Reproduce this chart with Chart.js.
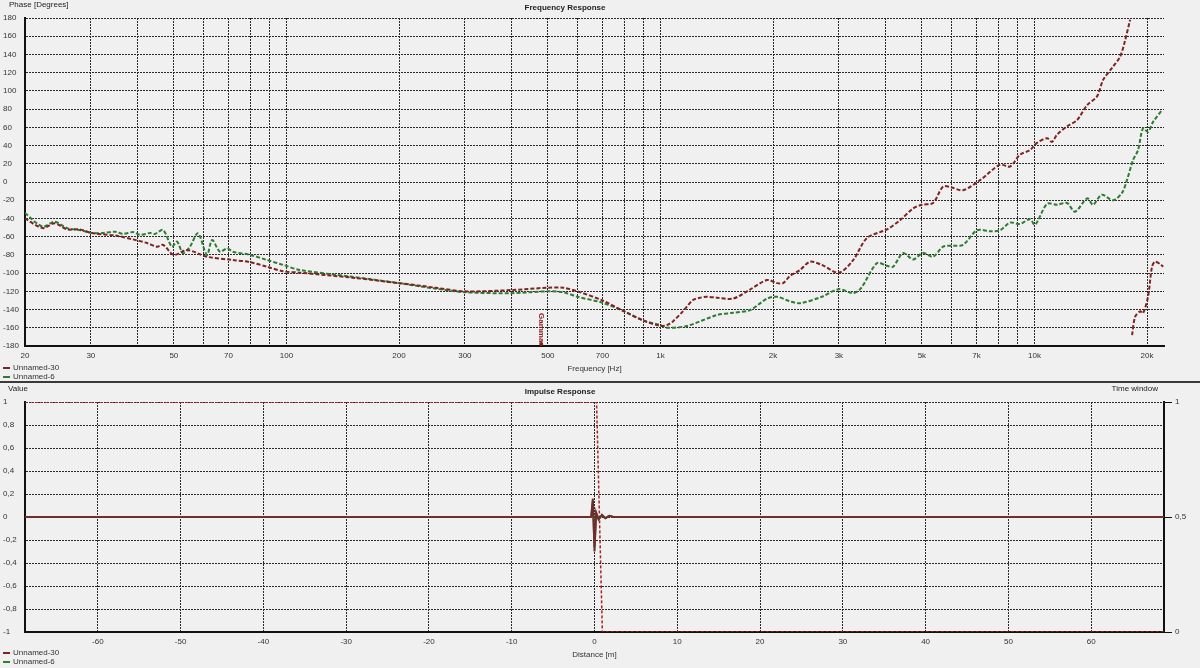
<!DOCTYPE html>
<html lang="en">
	<head>
		<meta http-equiv="content-type" content="text/html; charset=UTF-8">
		<script src="https://cdn.jsdelivr.net/npm/chart.js@4.4.0/dist/chart.umd.min.js"></script>
		<title>Frequency / Impulse Response</title>
		<style>
			body { margin: 0; background: #f0f0f0; width: 1200px; height: 668px; overflow: hidden; position: relative; }
			canvas { position: absolute; left: 0; }
			#separator { position: absolute; left: 0; top: 381px; width: 1200px; height: 0; border-top: 2px solid #3a3a3a; }
		</style>
	</head>
	<body>
		<canvas id="freq-chart" width="1200" height="381" style="top:0px;"></canvas>
		<div id="separator"></div>
		<canvas id="impulse-chart" width="1200" height="285" style="top:383px;"></canvas>
		<script>
			// ---- data ----
			var seriesNames = ["Unnamed-30", "Unnamed-6"];

			var freqGrid = [20, 30, 40, 50, 60, 70, 80, 90, 100, 200, 300, 400, 500, 600, 700, 800, 900,
				1000, 2000, 3000, 4000, 5000, 6000, 7000, 8000, 9000, 10000, 20000];
			var freqLabels = {20: "20", 30: "30", 50: "50", 70: "70", 100: "100", 200: "200", 300: "300",
				500: "500", 700: "700", 1000: "1k", 2000: "2k", 3000: "3k", 5000: "5k", 7000: "7k",
				10000: "10k", 20000: "20k"};
			var phaseTicks = [-180, -160, -140, -120, -100, -80, -60, -40, -20, 0, 20, 40, 60, 80, 100, 120, 140, 160, 180];

			// Unnamed-30 phase (null = wrap from +180 to -180)
			var freq30 = [20, 22.3, 24, 25.9, 28, 30.2, 35.2, 38.9, 42.4, 45.1, 46.8, 50, 54.2, 61.3, 71.9, 80, 88.7, 98,
				108.7, 150, 200, 250, 300, 400, 500, 550, 600, 700, 800, 900, 1000, 1042, 1080, 1148, 1222, 1276, 1332,
				1416, 1563, 1736, 1928, 2050, 2128, 2220, 2361, 2512, 2700, 3000, 3272, 3566, 4034, 4371, 4736, 5000,
				5355, 5700, 6000, 6443, 7152, 8090, 8605, 9146, 9728, 10160, 10810, 11140, 11490, 12220, 13000, 13836,
				14700, 15260, 16220, 16940, 17460, 18020, 18120, 18240, 18580, 19160, 19510, 20120, 20620, 21000, 21660, 22080];
			var phase30 = [-40, -50.6, -45.4, -52, -52, -56, -59, -63, -67, -71, -69, -80, -74.6, -82, -85.6, -88, -93, -98,
				-99.5, -105, -111, -116, -120, -118.6, -116, -116, -120, -130, -142, -152, -158, -157, -153, -142, -129.5, -127, -126,
				-127, -128, -118, -107.6, -111, -111, -103, -96.6, -87.5, -91, -99.5, -86, -61.5, -52, -42, -29, -25,
				-23, -5, -6, -9, 2, 19, 17, 30, 35, 43, 48, 44, 52, 61, 68, 84.5,
				94, 112, 126.6, 137.5, 155, 178, null, -168, -148, -142, -144, -126, -93, -87.5, -90, -93];

			// Unnamed-6 phase
			var freq6 = [20, 22.3, 24, 25.9, 28, 30.2, 32.3, 34.8, 36.6, 38.9, 40.6, 43.2, 44.5, 46.8, 49.4, 51, 52.9, 55.2,
				58, 61.3, 63.3, 66.4, 69.4, 71.9, 80, 88.7, 98, 108.7, 150, 200, 250, 300, 400, 500, 550, 600, 700, 800,
				900, 1000, 1042, 1178, 1416, 1563, 1736, 1928, 2050, 2220, 2361, 2700, 3000, 3272, 3430, 3794, 4034, 4188,
				4452, 4736, 5036, 5355, 5700, 6058, 6443, 7020, 7612, 8090, 8605, 9146, 9728, 10036, 10810, 11490, 12220,
				12832, 13836, 14340, 15130, 16220, 17140, 17670, 18350, 18920, 19510, 20120, 20760, 21940];
			var phase6 = [-34, -49, -43.5, -50.6, -52.7, -56, -56, -54.5, -57, -55, -58, -56, -57, -52.7, -71, -65.5, -78, -71,
				-56.3, -80, -63.7, -76.5, -72.8, -76.5, -80, -85.6, -91, -96.6, -104, -111, -117, -121, -122, -120, -121, -126, -132.5, -142,
				-152, -157, -160, -158, -146, -143.5, -140.5, -128, -126, -131, -133, -126, -117.6, -122, -117, -89, -92, -93,
				-78, -85, -78, -82, -71, -70, -69, -53, -54, -53, -44.6, -46, -40.8, -47, -24, -25, -23,
				-32.6, -18, -25, -14, -20, -12, 2, 24, 35, 59, 55, 66, 79];

			var markerFreq = 480;
			var markerText = "Gamma";

			// impulse response
			var distTicks = [-60, -50, -40, -30, -20, -10, 0, 10, 20, 30, 40, 50, 60];
			var valueTicks = [-1, -0.8, -0.6, -0.4, -0.2, 0, 0.2, 0.4, 0.6, 0.8, 1];
			var windowTicks = [0, 0.5, 1];
			var impulseDist = [-68.8, -0.4, -0.2, 0, 0.2, 0.5, 0.9, 1.3, 1.8, 2.3, 68.8];
			var impulse30 = [0, 0, 0.16, -0.3, 0.04, -0.02, 0.02, -0.01, 0.01, 0, 0];
			var impulse6 = [0, 0, 0.14, -0.26, 0.03, -0.02, 0.015, -0.01, 0.01, 0, 0];
			var windowDist = [-68.8, 0.25, 0.95, 68.8];
			var windowValue = [1, 1, 0, 0];

			// ---- helpers ----
			var redColour = "#7a2424";
			var greenColour = "#2f7b34";
			var labelFont = "8px 'Liberation Sans', Arial, sans-serif";
			var boldFont = "bold 8px 'Liberation Sans', Arial, sans-serif";

			function toPoints(xs, ys) {
				var pts = [];
				for (var i = 0; i < xs.length; i++) {
					pts.push({x: xs[i], y: ys[i]});
				}
				return pts;
			}

			function fixTicks(values) {
				return function (axis) {
					axis.ticks = values.map(function (v) { return {value: v}; });
				};
			}

			function commaNumber(v) {
				return String(Math.round(v * 10) / 10).replace(".", ",");
			}

			var gridOpts = { color: "#2a2a2a", lineWidth: 1, drawTicks: false };
			var borderOpts = { display: true, color: "#111", width: 2, dash: [2, 1] };
			var tickFont = { family: "'Liberation Sans', Arial, sans-serif", size: 8 };

			// texts drawn around the plot: [text, x, y, align, font, colour]
			function textPlugin(id, texts, legendY) {
				return {
					id: id,
					afterDraw: function (chart) {
						var ctx = chart.ctx;
						ctx.save();
						ctx.textBaseline = "middle";
						texts.forEach(function (t) {
							ctx.font = t[4];
							ctx.fillStyle = t[5] || "#222";
							ctx.textAlign = t[3];
							ctx.fillText(t[0], t[1], t[2]);
						});
						// legend
						var colours = [redColour, greenColour];
						for (var i = 0; i < seriesNames.length; i++) {
							ctx.strokeStyle = colours[i];
							ctx.lineWidth = 2;
							ctx.beginPath();
							ctx.moveTo(3, legendY[i]);
							ctx.lineTo(10, legendY[i]);
							ctx.stroke();
							ctx.font = labelFont;
							ctx.fillStyle = "#333";
							ctx.textAlign = "left";
							ctx.fillText(seriesNames[i], 13, legendY[i]);
						}
						ctx.restore();
					}
				};
			}

			var markerPlugin = {
				id: "marker",
				afterDatasetsDraw: function (chart) {
					var ctx = chart.ctx;
					var x = chart.scales.x.getPixelForValue(markerFreq);
					var bottom = chart.chartArea.bottom;
					ctx.save();
					ctx.fillStyle = "#8a1c1c";
					ctx.beginPath();
					ctx.arc(x, bottom - 2, 2, 0, Math.PI * 2);
					ctx.fill();
					ctx.translate(x, bottom - 33);
					ctx.rotate(Math.PI / 2);
					ctx.font = boldFont;
					ctx.textAlign = "left";
					ctx.textBaseline = "middle";
					ctx.fillText(markerText, 0, 0);
					ctx.restore();
				}
			};

			// ---- frequency response ----
			new Chart(document.getElementById("freq-chart"), {
				type: "line",
				data: {
					datasets: [
						{
							label: seriesNames[0],
							data: toPoints(freq30, phase30),
							borderColor: redColour,
							borderWidth: 2,
							borderDash: [4, 2],
							pointRadius: 0,
							tension: 0.3,
							spanGaps: false
						},
						{
							label: seriesNames[1],
							data: toPoints(freq6, phase6),
							borderColor: greenColour,
							borderWidth: 2,
							borderDash: [4, 2],
							pointRadius: 0,
							tension: 0.3
						}
					]
				},
				options: {
					responsive: false,
					animation: false,
					layout: { padding: { left: 3, right: 36, top: 18, bottom: 0 } },
					plugins: { legend: { display: false }, tooltip: { enabled: false } },
					scales: {
						x: {
							type: "logarithmic",
							min: 20,
							max: 22200,
							afterBuildTicks: fixTicks(freqGrid),
							afterFit: function (axis) { axis.height = 35; },
							grid: gridOpts,
							border: borderOpts,
							ticks: {
								autoSkip: false,
								maxRotation: 0,
								padding: 5,
								color: "#333",
								font: tickFont,
								callback: function (value) { return freqLabels[value] || ""; }
							},
							title: { display: true, text: "Frequency [Hz]", color: "#333", font: tickFont, padding: { top: 0, bottom: 7 } }
						},
						y: {
							min: -180,
							max: 180,
							afterBuildTicks: fixTicks(phaseTicks),
							afterFit: function (axis) { axis.width = 22; },
							grid: gridOpts,
							border: borderOpts,
							ticks: { crossAlign: "far", padding: 4, color: "#333", font: tickFont }
						}
					}
				},
				plugins: [
					textPlugin("freqTexts", [
						["Phase [Degrees]", 9, 5, "left", labelFont],
						["Frequency Response", 565, 8, "center", boldFont]
					], [368, 377]),
					markerPlugin
				]
			});

			// ---- impulse response ----
			new Chart(document.getElementById("impulse-chart"), {
				type: "line",
				data: {
					datasets: [
						{
							label: seriesNames[0],
							data: toPoints(impulseDist, impulse30),
							borderColor: "#6e2e2e",
							borderWidth: 2,
							pointRadius: 0,
							tension: 0,
							yAxisID: "y"
						},
						{
							label: seriesNames[1],
							data: toPoints(impulseDist, impulse6),
							borderColor: greenColour,
							borderWidth: 2,
							pointRadius: 0,
							tension: 0,
							yAxisID: "y"
						},
						{
							label: "Time window",
							data: toPoints(windowDist, windowValue),
							borderColor: "#a82222",
							borderWidth: 1.5,
							borderDash: [3, 2],
							pointRadius: 0,
							tension: 0,
							yAxisID: "y2"
						}
					]
				},
				options: {
					responsive: false,
					animation: false,
					layout: { padding: { left: 3, right: 0, top: 19, bottom: 0 } },
					plugins: { legend: { display: false }, tooltip: { enabled: false } },
					scales: {
						x: {
							type: "linear",
							min: -68.8,
							max: 68.8,
							afterBuildTicks: fixTicks(distTicks),
							afterFit: function (axis) { axis.height = 36; },
							grid: gridOpts,
							border: borderOpts,
							ticks: { autoSkip: false, maxRotation: 0, padding: 5, color: "#333", font: tickFont },
							title: { display: true, text: "Distance [m]", color: "#333", font: tickFont, padding: { top: 0, bottom: 8 } }
						},
						y: {
							position: "left",
							min: -1,
							max: 1,
							afterBuildTicks: fixTicks(valueTicks),
							afterFit: function (axis) { axis.width = 22; },
							grid: gridOpts,
							border: borderOpts,
							ticks: { crossAlign: "far", padding: 4, color: "#333", font: tickFont, callback: commaNumber }
						},
						y2: {
							position: "right",
							min: 0,
							max: 1,
							afterBuildTicks: fixTicks(windowTicks),
							afterFit: function (axis) { axis.width = 36; },
							grid: { drawOnChartArea: false, drawTicks: true, tickLength: 8, tickColor: "#111", tickWidth: 1 },
							border: { display: true, color: "#111", width: 2 },
							ticks: { padding: 3, color: "#333", font: tickFont, callback: commaNumber }
						}
					}
				},
				plugins: [
					textPlugin("impulseTexts", [
						["Value", 8, 6, "left", labelFont],
						["Impulse Response", 560, 9, "center", boldFont],
						["Time window", 1158, 6, "right", labelFont]
					], [270, 279])
				]
			});
		</script>
	</body>
</html>
